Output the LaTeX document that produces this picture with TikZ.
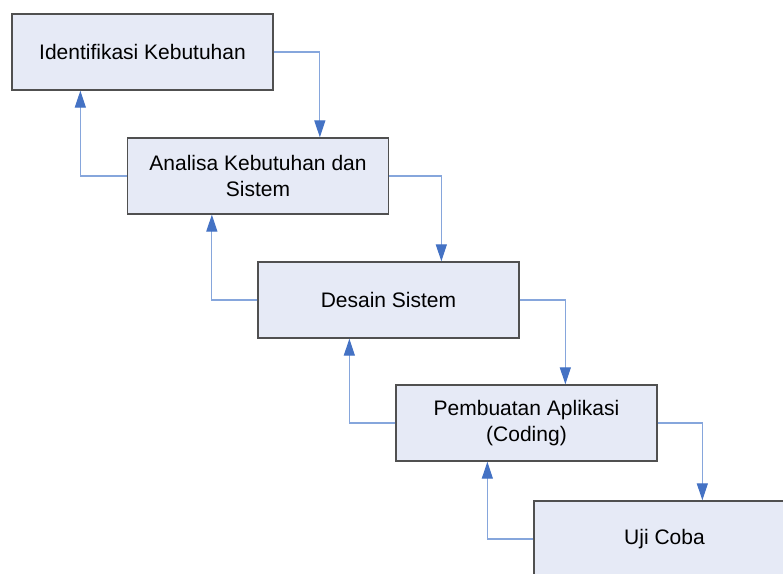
\documentclass[tikz,border=0pt]{standalone}
\usepackage{fontspec}
\setmainfont{Liberation Sans}
\usetikzlibrary{arrows.meta}
\definecolor{boxfill}{HTML}{E6EAF6}
\definecolor{boxline}{HTML}{505050}
\definecolor{linkline}{HTML}{86A6DC}
\definecolor{tipblue}{HTML}{4472C4}
\tikzset{
  phase/.style={draw=boxline, line width=1.3pt, fill=boxfill,
    minimum width=261pt, minimum height=76pt, inner sep=0pt,
    align=center, font=\fontsize{21}{26}\selectfont},
  link/.style={draw=linkline, line width=1.2pt,
    -{Triangle[length=17pt,width=11pt,color=tipblue]}}
}
\begin{document}
\begin{tikzpicture}[x=1pt,y=-1pt]
\useasboundingbox (0,0) rectangle (783,573);
\clip (0,0) rectangle (783,573);

% phases of the waterfall
\node[phase] (b1) at (142.5,52) {Identifikasi Kebutuhan};
\node[phase] (b2) at (258,176) {Analisa Kebutuhan dan\\Sistem};
\node[phase] (b3) at (388.5,300) {Desain Sistem};
\node[phase] (b4) at (526.5,423) {Pembuatan Aplikasi\\(Coding)};
\node[phase] (b5) at (664.5,539) {Uji Coba};

% forward flow: right side down to the next phase
\draw[link] (b1.east) -| ([xshift=193pt]b2.north west);
\draw[link] (b2.east) -| ([xshift=184pt]b3.north west);
\draw[link] (b3.east) -| ([xshift=170pt]b4.north west);
\draw[link] (b4.east) -| ([xshift=169pt]b5.north west);

% feedback: left side up to the previous phase
\draw[link] (b2.west) -| ([xshift=69pt]b1.south west);
\draw[link] (b3.west) -| ([xshift=85pt]b2.south west);
\draw[link] (b4.west) -| ([xshift=92pt]b3.south west);
\draw[link] (b5.west) -| ([xshift=92pt]b4.south west);
\end{tikzpicture}
\end{document}
